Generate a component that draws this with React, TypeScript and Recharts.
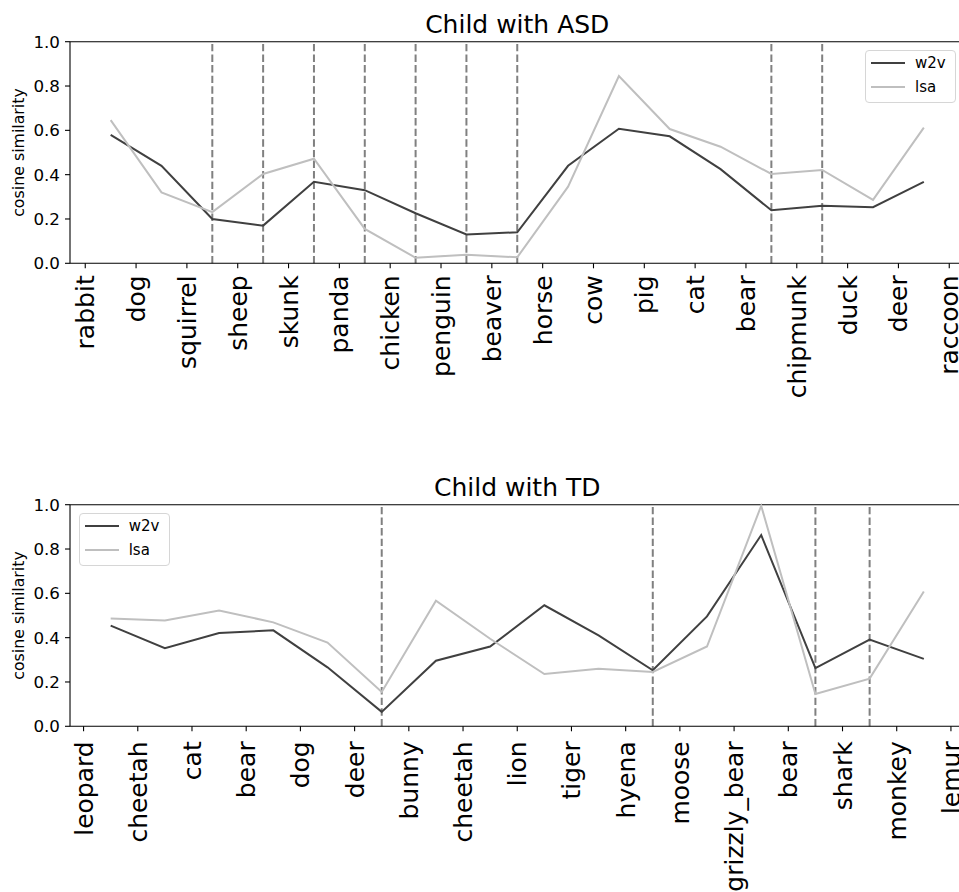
import { LineChart, Line, XAxis, YAxis, ReferenceLine, Legend } from "recharts";

const FONT = "DejaVu Sans, Verdana, sans-serif";

// Child with ASD: word sequence and similarity between consecutive words
const asdWords = ["rabbit", "dog", "squirrel", "sheep", "skunk", "panda", "chicken", "penguin", "beaver", "horse", "cow", "pig", "cat", "bear", "chipmunk", "duck", "deer", "raccoon"];
const asdW2v = [0.58, 0.44, 0.2, 0.17, 0.368, 0.33, 0.226, 0.13, 0.14, 0.44, 0.607, 0.573, 0.425, 0.239, 0.26, 0.253, 0.367];
const asdLsa = [0.646, 0.32, 0.231, 0.403, 0.472, 0.155, 0.025, 0.039, 0.027, 0.346, 0.845, 0.606, 0.526, 0.403, 0.421, 0.286, 0.612];
const asdSwitches = [2, 3, 4, 5, 6, 7, 8, 13, 14];

// Child with TD
const tdWords = ["leopard", "cheetah", "cat", "bear", "dog", "deer", "bunny", "cheetah", "lion", "tiger", "hyena", "moose", "grizzly_bear", "bear", "shark", "monkey", "lemur"];
const tdW2v = [0.454, 0.352, 0.421, 0.433, 0.266, 0.065, 0.296, 0.36, 0.546, 0.41, 0.253, 0.496, 0.863, 0.263, 0.391, 0.304];
const tdLsa = [0.486, 0.477, 0.523, 0.469, 0.378, 0.155, 0.567, 0.395, 0.236, 0.26, 0.245, 0.36, 0.995, 0.146, 0.215, 0.608];
const tdSwitches = [5, 10, 13, 14];

const yTicks = [0, 0.2, 0.4, 0.6, 0.8, 1.0];

const W2V = "#404040";
const LSA = "#bfbfbf";

function buildRows(w2v: number[], lsa: number[]) {
  return w2v.map((v, i) => ({ x: i + 0.5, w2v: v, lsa: lsa[i] }));
}

function RotTick(props: any) {
  const { x, y, payload, words, shift } = props;
  const label = words[Math.round(payload.value)] ?? "";
  const yy = y + shift;
  return (
    <text
      x={x}
      y={yy}
      transform={`rotate(-90, ${x}, ${yy})`}
      textAnchor="end"
      dy="0.36em"
      fontSize={25}
      fontFamily={FONT}
      fill="#000"
    >
      {label}
    </text>
  );
}

function YLabel(props: any) {
  const vb = props.viewBox || {};
  const cy = (vb.y ?? 41.7) + (vb.height ?? 221.6) / 2;
  const cx = 19;
  return (
    <text
      x={cx}
      y={cy}
      transform={`rotate(-90, ${cx}, ${cy})`}
      textAnchor="middle"
      dy="0.3em"
      fontSize={15.8}
      fontFamily={FONT}
      fill="#000"
    >
      cosine similarity
    </text>
  );
}

function LegendBox() {
  const items = [
    { name: "w2v", color: W2V },
    { name: "lsa", color: LSA },
  ];
  return (
    <div
      style={{
        border: "1px solid #d6d6d6",
        borderRadius: 4,
        background: "rgba(255,255,255,0.8)",
        width: 91,
        height: 53,
        boxSizing: "border-box",
        padding: "0 0 0 5px",
        fontFamily: FONT,
        fontSize: 15,
        color: "#000",
      }}
    >
      {items.map((it) => (
        <div key={it.name} style={{ display: "flex", alignItems: "center", height: 24, marginTop: it.name === "w2v" ? 0 : 0 }}>
          <svg width={34} height={4} style={{ display: "block" }}>
            <line x1={0} y1={2} x2={34} y2={2} stroke={it.color} strokeWidth={2} />
          </svg>
          <span style={{ marginLeft: 10, lineHeight: "24px" }}>{it.name}</span>
        </div>
      ))}
    </div>
  );
}

function Panel({
  title,
  words,
  w2v,
  lsa,
  switches,
  height,
  axisHeight,
  labelShift,
  legendPos,
}: {
  title: string;
  words: string[];
  w2v: number[];
  lsa: number[];
  switches: number[];
  height: number;
  axisHeight: number;
  labelShift: number;
  legendPos: { left: number; top: number };
}) {
  const rows = buildRows(w2v, lsa);
  const n = words.length;
  const ticks = words.map((_, i) => i);
  const pad = (w2v.length - 1) * 0.05;
  const domain = [0.5 - pad, w2v.length - 0.5 + pad];
  return (
    <LineChart width={966} height={height} data={rows} margin={{ top: 41.7, right: 1.5, left: 0, bottom: 0 }}>
      <XAxis
        type="number"
        dataKey="x"
        domain={domain}
        allowDataOverflow
        ticks={ticks}
        interval={0}
        height={axisHeight}
        tickSize={5}
        tickMargin={0}
        axisLine={{ stroke: "#000", strokeWidth: 1.1 }}
        tickLine={{ stroke: "#000", strokeWidth: 1.1 }}
        tick={<RotTick words={words} shift={labelShift} />}
      />
      <YAxis
        type="number"
        domain={[0, 1]}
        ticks={yTicks}
        width={70}
        tickSize={5}
        tickMargin={5}
        tickFormatter={(v: number) => v.toFixed(1)}
        axisLine={{ stroke: "#000", strokeWidth: 1.1 }}
        tickLine={{ stroke: "#000", strokeWidth: 1.1 }}
        tick={{ fontSize: 16.7, fill: "#000", fontFamily: FONT }}
        label={<YLabel />}
      />
      <ReferenceLine
        y={1}
        stroke="#000"
        strokeWidth={1.1}
        label={{ value: title, position: "top", offset: 8.4, fontSize: 25, fill: "#000", fontFamily: FONT }}
      />
      {switches.map((s) => (
        <ReferenceLine key={s} x={s + 0.5} stroke="#808080" strokeWidth={2} strokeDasharray="7.4 3.2" />
      ))}
      <Line type="linear" dataKey="w2v" name="w2v" stroke={W2V} strokeWidth={2} dot={false} isAnimationActive={false} />
      <Line type="linear" dataKey="lsa" name="lsa" stroke={LSA} strokeWidth={2} dot={false} isAnimationActive={false} />
      <Legend
        layout="vertical"
        align="center"
        verticalAlign="middle"
        content={<LegendBox />}
        wrapperStyle={{ left: legendPos.left, top: legendPos.top, width: 91, height: 53 }}
      />
      {n ? null : null}
    </LineChart>
  );
}

export default function App() {
  return (
    <div style={{ position: "fixed", left: 0, top: 0, width: 959, height: 892, overflow: "hidden", background: "#fff" }}>
      <div style={{ position: "absolute", left: 0, top: 0 }}>
        <Panel
          title="Child with ASD"
          words={asdWords}
          w2v={asdW2v}
          lsa={asdLsa}
          switches={asdSwitches}
          height={420}
          axisHeight={156.7}
          labelShift={7}
          legendPos={{ left: 865, top: 50 }}
        />
      </div>
      <div style={{ position: "absolute", left: 0, top: 463.3 }}>
        <Panel
          title="Child with TD"
          words={tdWords}
          w2v={tdW2v}
          lsa={tdLsa}
          switches={tdSwitches}
          height={428.7}
          axisHeight={165.4}
          labelShift={10}
          legendPos={{ left: 78.7, top: 50 }}
        />
      </div>
    </div>
  );
}
